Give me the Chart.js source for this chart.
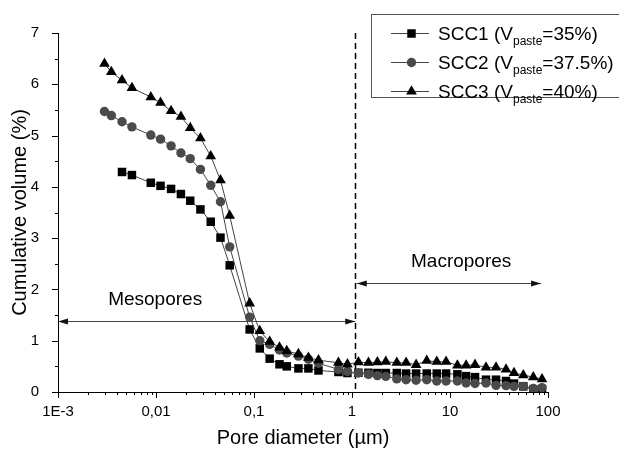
<!DOCTYPE html>
<html>
<head>
<meta charset="utf-8">
<title>Cumulative pore volume</title>
<script src="https://cdn.jsdelivr.net/npm/chart.js@4.4.1/dist/chart.umd.min.js"></script>
<style>
  html, body { margin: 0; padding: 0; background: #fff; }
</style>
</head>
<body>
<canvas id="poreChart" width="619" height="453"></canvas>
<script>
// Pore diameter (µm) shared by the three mixes
const poreDiameter = [0.00298, 0.00350, 0.00450, 0.00568, 0.00885, 0.01112, 0.01425, 0.01796, 0.02235, 0.0284,
  0.0362, 0.0455, 0.0565, 0.0903, 0.1145, 0.1445, 0.182, 0.216, 0.284, 0.359,
  0.455, 0.727, 0.898, 1.163, 1.471, 1.816, 2.213, 2.866, 3.565, 4.508,
  5.79, 7.33, 9.12, 11.9, 14.6, 18.0, 23.3, 29.5, 37.3, 45.0,
  56.0, 70.8, 86.9];

// Cumulative volume (%)
const scc1Volume = [null, null, 4.29, 4.23, 4.08, 4.02, 3.96, 3.86, 3.73, 3.56,
  3.32, 3.01, 2.47, 1.22, 0.85, 0.65, 0.54, 0.50, 0.46, 0.46,
  0.42, 0.39, 0.37, 0.375, 0.375, 0.37, 0.37, 0.37, 0.36, 0.36,
  0.36, 0.36, 0.36, 0.345, 0.31, 0.29, 0.24, 0.24, 0.215, 0.165,
  0.11, 0.05, 0.05];
const scc2Volume = [5.47, 5.39, 5.27, 5.17, 5.01, 4.93, 4.80, 4.66, 4.55, 4.34,
  4.03, 3.71, 2.83, 1.46, 1.00, 0.93, 0.82, 0.76, 0.70, 0.64,
  0.56, 0.44, 0.40, 0.37, 0.345, 0.32, 0.305, 0.255, 0.24, 0.23,
  0.24, 0.215, 0.215, 0.215, 0.175, 0.165, 0.175, 0.13, 0.125, 0.11,
  0.11, 0.07, 0.085];
const scc3Volume = [6.40, 6.24, 6.08, 5.93, 5.75, 5.64, 5.48, 5.37, 5.15, 4.95,
  4.60, 4.13, 3.44, 1.73, 1.19, 0.98, 0.87, 0.80, 0.74, 0.67,
  0.62, 0.57, 0.54, 0.58, 0.57, 0.58, 0.59, 0.57, 0.57, 0.53,
  0.61, 0.59, 0.59, 0.52, 0.52, 0.53, 0.48, 0.48, 0.44, 0.37,
  0.33, 0.29, 0.25];

const mixNames = ['SCC1', 'SCC2', 'SCC3'];
const pasteVolume = ['35%', '37.5%', '40%'];

const xTickValues = [0.001, 0.01, 0.1, 1, 10, 100];
const xTickLabels = ['1E-3', '0,01', '0,1', '1', '10', '100'];

// limits for the pore size ranges
const mesoMacroLimit = 1.08;
const mesoArrow = { from: 0.001, to: 1.08, y: 1.38 };
const macroArrow = { from: 1.12, to: 85, y: 2.12 };
const rangeLabels = [
  { text: 'Mesopores', x: 0.0098, y: 1.79 },
  { text: 'Macropores', x: 13.0, y: 2.53 }
];

const FONT = "'Liberation Sans', Arial, sans-serif";

function toPoints(values) {
  const pts = [];
  values.forEach((v, i) => {
    if (v !== null) pts.push({ x: poreDiameter[i], y: v });
  });
  return pts;
}

// minor / major tick marks on both axes
const tickMarks = {
  id: 'tickMarks',
  afterDraw(chart) {
    const { ctx, chartArea: a, scales: { x, y } } = chart;
    ctx.save();
    ctx.strokeStyle = '#000';
    ctx.lineWidth = 1;
    ctx.beginPath();
    for (let e = -3; e <= 2; e++) {
      for (let k = 1; k <= 9; k++) {
        const v = k * Math.pow(10, e);
        if (v > 100.001) break;
        const px = Math.round(x.getPixelForValue(v)) + 0.5;
        const len = k === 1 ? 6 : 3;
        ctx.moveTo(px, a.bottom);
        ctx.lineTo(px, a.bottom + len);
      }
    }
    for (let v = 0; v <= 7; v += 0.5) {
      const py = Math.round(y.getPixelForValue(v)) + 0.5;
      const len = Number.isInteger(v) ? 6 : 3;
      ctx.moveTo(a.left, py);
      ctx.lineTo(a.left - len, py);
    }
    ctx.stroke();
    ctx.restore();
  }
};

function arrowHead(ctx, x, y, dir) {
  ctx.beginPath();
  ctx.moveTo(x, y);
  ctx.lineTo(x - dir * 10, y - 3);
  ctx.lineTo(x - dir * 10, y + 3);
  ctx.closePath();
  ctx.fill();
}

function drawArrow(ctx, x1, x2, y) {
  ctx.beginPath();
  ctx.moveTo(x1, y);
  ctx.lineTo(x2, y);
  ctx.stroke();
  arrowHead(ctx, x1, y, -1);
  arrowHead(ctx, x2, y, 1);
}

// dashed boundary, range arrows and their labels
const poreRanges = {
  id: 'poreRanges',
  beforeDatasetsDraw(chart) {
    const { ctx, chartArea: a, scales: { x, y } } = chart;
    ctx.save();
    const lx = Math.round(x.getPixelForValue(mesoMacroLimit)) + 0.5;
    ctx.strokeStyle = '#000';
    ctx.lineWidth = 1.5;
    ctx.setLineDash([6, 4]);
    ctx.beginPath();
    ctx.moveTo(lx, a.top);
    ctx.lineTo(lx, a.bottom);
    ctx.stroke();
    ctx.setLineDash([]);

    ctx.strokeStyle = '#444';
    ctx.fillStyle = '#111';
    ctx.lineWidth = 1;
    [mesoArrow, macroArrow].forEach(r => {
      const py = Math.round(y.getPixelForValue(r.y)) + 0.5;
      drawArrow(ctx, x.getPixelForValue(r.from), x.getPixelForValue(r.to), py);
    });

    ctx.fillStyle = '#000';
    ctx.font = '19px ' + FONT;
    ctx.textAlign = 'center';
    ctx.textBaseline = 'middle';
    rangeLabels.forEach(l => {
      ctx.fillText(l.text, x.getPixelForValue(l.x), y.getPixelForValue(l.y));
    });
    ctx.restore();
  }
};

function drawMarker(ctx, style, cx, cy, r) {
  ctx.beginPath();
  if (style === 'rect') {
    const s = Math.SQRT1_2 * r;
    ctx.rect(cx - s, cy - s, 2 * s, 2 * s);
  } else if (style === 'circle') {
    ctx.arc(cx, cy, r, 0, Math.PI * 2);
  } else {
    ctx.moveTo(cx, cy - r);
    ctx.lineTo(cx + r * Math.sin(Math.PI * 2 / 3), cy + r / 2);
    ctx.lineTo(cx - r * Math.sin(Math.PI * 2 / 3), cy + r / 2);
    ctx.closePath();
  }
  ctx.fill();
}

// framed legend with the subscript in V_paste
const pasteLegend = {
  id: 'pasteLegend',
  afterDraw(chart) {
    const ctx = chart.ctx;
    ctx.save();
    ctx.strokeStyle = '#555';
    ctx.lineWidth = 1;
    ctx.strokeRect(371.5, 14.5, 260, 83);
    chart.data.datasets.forEach((ds, i) => {
      const cy = 33 + i * 29;
      ctx.strokeStyle = ds.borderColor;
      ctx.lineWidth = 1;
      ctx.beginPath();
      ctx.moveTo(391, cy + 0.5);
      ctx.lineTo(429, cy + 0.5);
      ctx.stroke();
      ctx.fillStyle = ds.pointBackgroundColor;
      drawMarker(ctx, ds.pointStyle, 411.5, cy + 0.5, ds.pointRadius);

      ctx.fillStyle = '#000';
      ctx.textAlign = 'left';
      ctx.textBaseline = 'alphabetic';
      const base = cy + 7;
      let tx = 438;
      ctx.font = '19px ' + FONT;
      const head = mixNames[i] + ' (V';
      ctx.fillText(head, tx, base);
      tx += ctx.measureText(head).width;
      ctx.font = '12px ' + FONT;
      ctx.fillText('paste', tx, base + 5);
      tx += ctx.measureText('paste').width;
      ctx.font = '19px ' + FONT;
      ctx.fillText('=' + pasteVolume[i] + ')', tx, base);
    });
    ctx.restore();
  }
};

const seriesValues = [scc1Volume, scc2Volume, scc3Volume];
const markerStyles = ['rect', 'circle', 'triangle'];
const markerColors = ['#000000', '#4a4a4a', '#000000'];
const markerSizes = [6, 4.7, 6.2];

const datasets = seriesValues.map((vals, i) => ({
  label: mixNames[i],
  data: toPoints(vals),
  borderColor: '#444',
  borderWidth: 1,
  pointStyle: markerStyles[i],
  pointRadius: markerSizes[i],
  pointBackgroundColor: markerColors[i],
  pointBorderColor: markerColors[i],
  pointBorderWidth: 0,
  tension: 0,
  order: 3 - i
}));

new Chart(document.getElementById('poreChart'), {
  type: 'line',
  data: { datasets },
  options: {
    responsive: false,
    animation: false,
    layout: { padding: { top: 33, right: 71, left: 0, bottom: 0 } },
    plugins: {
      legend: { display: false },
      tooltip: { enabled: false }
    },
    scales: {
      x: {
        type: 'logarithmic',
        position: 'bottom',
        min: 0.001,
        max: 100,
        grid: { display: false },
        border: { display: true, color: '#000', width: 1 },
        afterBuildTicks: scale => {
          scale.ticks = xTickValues.map(v => ({ value: v }));
        },
        afterFit: scale => { scale.height = 61; },
        ticks: {
          autoSkip: false,
          maxRotation: 0,
          padding: 3,
          color: '#000',
          font: { family: FONT, size: 15 },
          callback: (value) => {
            const idx = xTickValues.findIndex(v => Math.abs(v - value) < v * 1e-6);
            return idx >= 0 ? xTickLabels[idx] : '';
          }
        },
        title: {
          display: true,
          text: 'Pore diameter (µm)',
          color: '#000',
          font: { family: FONT, size: 20 },
          padding: { top: 0, bottom: 3 }
        }
      },
      y: {
        min: 0,
        max: 7,
        grid: { display: false },
        border: { display: true, color: '#000', width: 1 },
        afterFit: scale => { scale.width = 58; },
        ticks: {
          stepSize: 1,
          padding: 11,
          color: '#000',
          font: { family: FONT, size: 15 }
        },
        title: {
          display: true,
          text: 'Cumulative volume (%)',
          color: '#000',
          font: { family: FONT, size: 20, lineHeight: 2.05 },
          padding: 0
        }
      }
    }
  },
  plugins: [poreRanges, tickMarks, pasteLegend]
});
</script>
</body>
</html>
